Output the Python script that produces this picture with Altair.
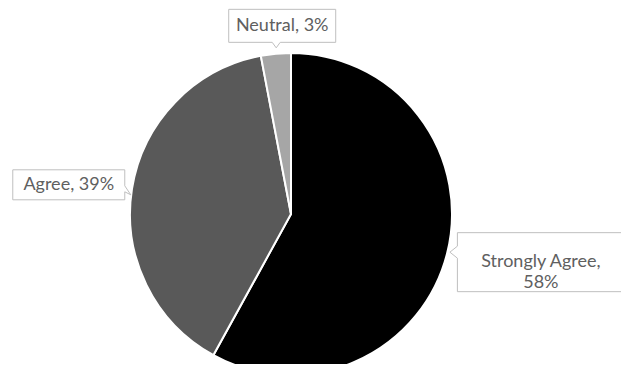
import altair as alt
import pandas as pd

categories = ["Strongly Agree", "Agree", "Neutral"]
values = [58, 39, 3]
colors = ["#000000", "#595959", "#a6a6a6"]
label_texts = ["Strongly Agree,\n58%", "Agree, 39%", "Neutral, 3%"]

df = pd.DataFrame({
    "category": categories,
    "value": values,
    "idx": list(range(len(categories))),
    "label": label_texts,
})

W, H = 613, 356
CX, CY = 283, 206
R_PIE = 161

base = alt.Chart(df)

pie = base.mark_arc(outerRadius=R_PIE, stroke="white", strokeWidth=2).encode(
    theta=alt.Theta("value:Q", stack=True),
    color=alt.Color("category:N", scale=alt.Scale(domain=categories, range=colors), legend=None),
    order=alt.Order("idx:Q"),
    x=alt.value(CX),
    y=alt.value(CY),
)

# cumulative mid-angle of each slice (radians, 0 at top, clockwise)
stacked = base.transform_joinaggregate(total="sum(value)").transform_window(
    cum="sum(value)", sort=[alt.SortField("idx")], frame=[None, 0]
).transform_calculate(
    mid="2*PI*(datum.cum - datum.value/2)/datum.total"
)

label_style = {
    # category: (radius, dx, dy, box path)
    "Neutral": (189, 9, 0,
                "M-53.5,-16.5L53.5,-16.5L53.5,16.5L-2,16.5L-6,22L-10,16.5L-53.5,16.5Z"),
    "Agree": (225, 0, 6,
              "M-56,-15L56,-15L56,1L62,10L56,7L56,15L-56,15Z"),
    "Strongly Agree": (258, 0, -16,
                       "M-83.5,-29.5L83.5,-29.5L83.5,29.5L-83.5,29.5L-83.5,-4L-91,-10L-83.5,-16Z"),
}

layers = [pie]
for cat, (r, dx, dy, path) in label_style.items():
    pos = stacked.transform_filter(alt.datum.category == cat).transform_calculate(
        lx=f"{CX} + {r}*sin(datum.mid) + {dx}",
        ly=f"{CY} - {r}*cos(datum.mid) + {dy}",
    )
    box = pos.mark_point(shape=path, size=4, filled=True, fill="white",
                         stroke="#bfbfbf", strokeWidth=1, opacity=1).encode(
        x=alt.X("lx:Q", scale=None),
        y=alt.Y("ly:Q", scale=None),
    )
    txt = pos.mark_text(font="Lato", fontSize=18, color="#606060",
                        lineBreak="\n", lineHeight=21,
                        align="center", baseline="middle").encode(
        x=alt.X("lx:Q", scale=None),
        y=alt.Y("ly:Q", scale=None),
        text="label:N",
    )
    layers += [box, txt]

chart = alt.layer(*layers).properties(
    width=W, height=H, autosize=alt.AutoSizeParams(type="none"), padding=0
).configure_view(stroke=None)

chart.save("out.html", embed_options={"renderer": "svg", "actions": False})
